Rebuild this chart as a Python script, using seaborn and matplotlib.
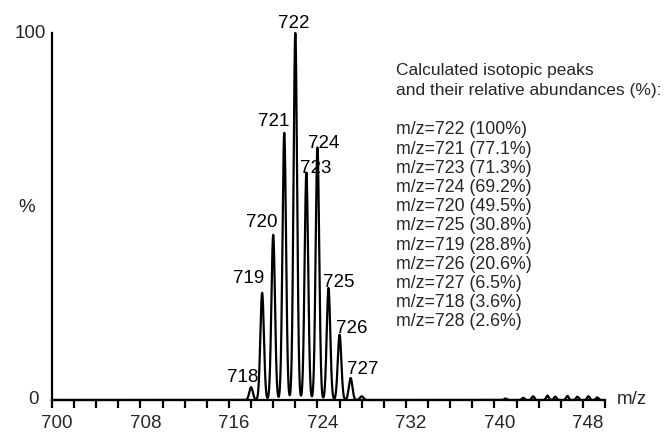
import numpy as np
import pandas as pd
import matplotlib
matplotlib.use("Agg")
import matplotlib.pyplot as plt
import seaborn as sns
from matplotlib.transforms import ScaledTranslation

# ---- data ----
peak_mz = [718, 719, 720, 721, 722, 723, 724, 725, 726, 727, 728]
peak_height = [3.5, 29.2, 45.0, 72.8, 100.0, 62.0, 68.8, 30.5, 17.8, 6.0, 1.0]
labeled_mz = [718, 719, 720, 721, 722, 723, 724, 725, 726, 727]
noise_mz = [741.0, 742.6, 743.5, 744.8, 745.5, 746.6, 747.5, 748.5, 749.3]
noise_height = [0.4, 0.6, 1.0, 1.2, 0.9, 1.1, 0.9, 1.0, 0.7]
calc_mz = [722, 721, 723, 724, 720, 725, 719, 726, 727, 718, 728]
calc_abund = ["100", "77.1", "71.3", "69.2", "49.5", "30.8", "28.8", "20.6", "6.5", "3.6", "2.6"]
major_ticks = [700, 708, 716, 724, 732, 740, 748]
heading = ["Calculated isotopic peaks", "and their relative abundances (%):"]

# label offsets (pixels) relative to each peak top: layout only
label_offsets = {718: (-8, 10), 719: (-14, 14), 720: (-11, 12), 721: (-11, 11),
                 722: (-2, 10), 723: (9, 4), 724: (6, 4), 725: (10, 6),
                 726: (12, 6), 727: (12, 8)}

# ---- build profile spectrum from the peak list ----
mz = np.linspace(700, 750, 6001)
sigma = 0.16
intensity = np.zeros_like(mz)
for m, h in zip(peak_mz, peak_height):
    intensity += h * np.exp(-0.5 * ((mz - m) / sigma) ** 2)
for m, h in zip(noise_mz, noise_height):
    intensity += h * np.exp(-0.5 * ((mz - m) / 0.12) ** 2)
df = pd.DataFrame({"mz": mz, "intensity": intensity})

sns.set_theme(style="white")
plt.rcParams["font.family"] = ["Liberation Sans", "DejaVu Sans"]

W, H = 664, 432
fig = plt.figure(figsize=(W / 100, H / 100), dpi=100)
ax = fig.add_axes([52 / W, (H - 400) / H, (605 - 52) / W, (400 - 33) / H])

sns.lineplot(data=df, x="mz", y="intensity", ax=ax, color="black",
             linewidth=1.6, clip_on=False)

ax.set_xlim(700, 750)
ax.set_ylim(0, 100)
ax.set_xlabel("")
ax.set_ylabel("")

for s in ["top", "right"]:
    ax.spines[s].set_visible(False)
for s in ["left", "bottom"]:
    ax.spines[s].set_linewidth(1.6)
    ax.spines[s].set_color("black")

ax.set_xticks(major_ticks)
ax.set_xticks(list(range(700, 751, 2)), minor=True)
ax.set_xticklabels([str(t) for t in major_ticks])
ax.tick_params(axis="x", which="both", direction="out", length=5.8, width=1.6,
               color="black", bottom=True, labelsize=13.5, pad=5)
ax.set_yticks([0, 100])
ax.set_yticklabels(["0", "100"])
ax.tick_params(axis="y", length=0, labelsize=13.5, pad=4, left=False)

for lab in ax.get_xticklabels():
    lab.set_transform(lab.get_transform() + ScaledTranslation(5 / 100, 0, fig.dpi_scale_trans))
ylabs = ax.get_yticklabels()
ylabs[0].set_transform(ylabs[0].get_transform() + ScaledTranslation(-8 / 100, 2 / 100, fig.dpi_scale_trans))
ylabs[1].set_transform(ylabs[1].get_transform() + ScaledTranslation(0, 1 / 100, fig.dpi_scale_trans))

# peak labels
for m in labeled_mz:
    h = peak_height[peak_mz.index(m)]
    dx, dy = label_offsets[m]
    ax.annotate(str(m), xy=(m, h), xytext=(dx * 0.72, dy * 0.72),
                textcoords="offset points", ha="center", va="center",
                fontsize=13.5, color="black", annotation_clip=False)

# axis captions
fig.text(27 / W, 1 - 208 / H, "%", fontsize=13.5, ha="center", va="center")
fig.text(617 / W, 1 - 399 / H, "m/z", fontsize=13.5, ha="left", va="center")

# calculated abundances text block
x0 = 396 / W
for i, line in enumerate(heading):
    fig.text(x0, 1 - (71 + 19 * i) / H, line, fontsize=12.5, ha="left", va="center")
for i, (m, a) in enumerate(zip(calc_mz, calc_abund)):
    fig.text(x0, 1 - (130 + 19.2 * i) / H, f"m/z={m} ({a}%)", fontsize=12.8,
             ha="left", va="center")

fig.savefig("out.png", dpi=100, facecolor="white")
